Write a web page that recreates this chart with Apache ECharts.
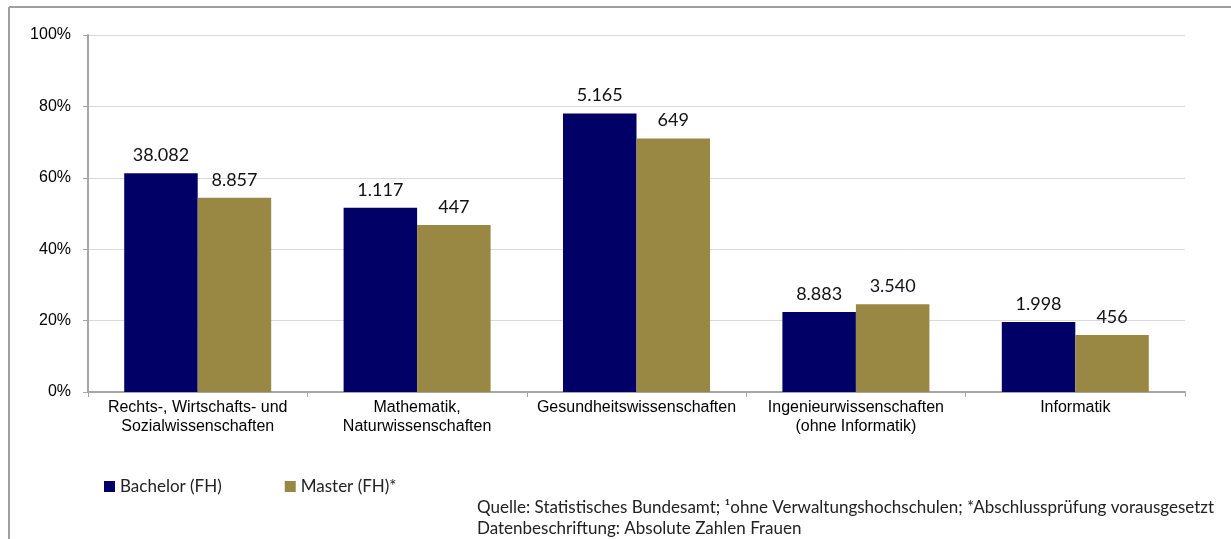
<!DOCTYPE html>
<html>
<head>
<meta charset="utf-8">
<script src="https://cdn.jsdelivr.net/npm/echarts@6/dist/echarts.min.js"></script>
<style>
    html, body { margin: 0; padding: 0; background: #fff; }
    #chart { width: 1231px; height: 539px; }
</style>
</head>
<body>
<div id="chart"></div>
<script>
    // Anteil Frauen in % (Balkenhöhe), Beschriftung = absolute Zahlen Frauen
    var categories = [
        'Rechts-, Wirtschafts- und\nSozialwissenschaften',
        'Mathematik,\nNaturwissenschaften',
        'Gesundheitswissenschaften',
        'Ingenieurwissenschaften\n(ohne Informatik)',
        'Informatik'
    ];
    var bachelorShare = [61.3, 51.6, 78.0, 22.4, 19.6];
    var masterShare = [54.4, 46.8, 71.0, 24.6, 16.0];
    var bachelorLabels = ['38.082', '1.117', '5.165', '8.883', '1.998'];
    var masterLabels = ['8.857', '447', '649', '3.540', '456'];
    var yTicks = [0, 20, 40, 60, 80, 100];

    var labelFont = 'Lato, "Open Sans", sans-serif';
    var axisFont = '"Liberation Sans", Arial, sans-serif';

    var myChart = echarts.init(document.getElementById('chart'));
    var option = {
        backgroundColor: '#fff',
        animation: false,
        color: ['#000066', '#998844'],
        title: {
            text: 'Quelle: Statistisches Bundesamt; \u00B9ohne Verwaltungshochschulen; *Abschlussprüfung vorausgesetzt\nDatenbeschriftung: Absolute Zahlen Frauen',
            left: 472,
            top: 492,
            textStyle: {
                fontFamily: labelFont,
                fontSize: 17,
                fontWeight: 'normal',
                color: '#222',
                lineHeight: 21
            }
        },
        legend: {
            left: 99,
            top: 473,
            itemWidth: 11,
            itemHeight: 11,
            itemGap: 63,
            icon: 'rect',
            textStyle: {
                fontFamily: labelFont,
                fontSize: 17,
                color: '#222'
            },
            data: ['Bachelor (FH)', 'Master (FH)*']
        },
        grid: {
            left: 88,
            right: 46,
            top: 35,
            bottom: 147
        },
        xAxis: {
            type: 'category',
            data: categories,
            axisLine: { lineStyle: { color: '#a6a6a6', width: 2 } },
            axisTick: { show: true, length: 5, lineStyle: { color: '#a6a6a6' } },
            axisLabel: {
                fontFamily: axisFont,
                fontSize: 16,
                color: '#000',
                lineHeight: 19,
                margin: 6,
                interval: 0
            }
        },
        yAxis: {
            type: 'value',
            min: yTicks[0],
            max: yTicks[yTicks.length - 1],
            interval: 20,
            axisLine: { show: true, lineStyle: { color: '#a6a6a6', width: 2 } },
            axisTick: { show: true, length: 5, lineStyle: { color: '#a6a6a6' } },
            splitLine: { lineStyle: { color: '#d9d9d9', width: 1 } },
            axisLabel: {
                fontFamily: axisFont,
                fontSize: 16,
                color: '#000',
                margin: 17,
                formatter: '{value}%'
            }
        },
        series: [
            {
                name: 'Bachelor (FH)',
                type: 'bar',
                data: bachelorShare,
                barGap: '0%',
                barCategoryGap: '33%',
                label: {
                    show: true,
                    position: 'top',
                    distance: 9,
                    fontFamily: labelFont,
                    fontSize: 18,
                    color: '#111',
                    formatter: function (p) { return bachelorLabels[p.dataIndex]; }
                }
            },
            {
                name: 'Master (FH)*',
                type: 'bar',
                data: masterShare,
                label: {
                    show: true,
                    position: 'top',
                    distance: 9,
                    fontFamily: labelFont,
                    fontSize: 18,
                    color: '#111',
                    formatter: function (p) { return masterLabels[p.dataIndex]; }
                }
            }
        ],
        graphic: [
            { type: 'line', shape: { x1: 9, y1: 7, x2: 1231, y2: 7 }, style: { stroke: '#a0a0a0', lineWidth: 2 } },
            { type: 'line', shape: { x1: 9, y1: 7, x2: 9, y2: 539 }, style: { stroke: '#a0a0a0', lineWidth: 2 } }
        ]
    };
    myChart.setOption(option);
</script>
</body>
</html>
